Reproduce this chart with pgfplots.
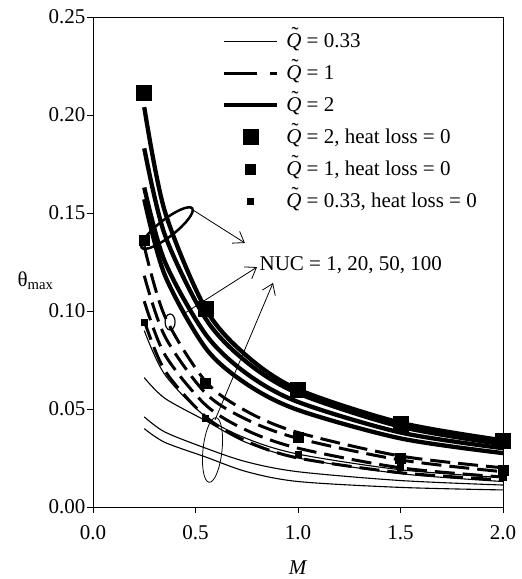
\documentclass[border=0pt]{standalone}
\usepackage{fontspec}
\setmainfont{Liberation Serif}
\usepackage{pgfplots}
\pgfplotsset{compat=1.18}
\usetikzlibrary{arrows.meta}
\newcommand{\Qt}{\ooalign{\textit{Q}\cr\hidewidth\kern0.12em\raisebox{0.25em}{\char"02DC}\hidewidth\cr}}
\pgfplotsset{
  lineleg/.style={legend image code/.code={\draw[##1] (0bp,0bp) -- (53bp,0bp);}},
  markleg/.style={legend image code/.code={\draw[##1] plot coordinates {(26.5bp,0bp)};}},
  dashleg/.style={legend image code/.code={\draw[black, line width=3bp, dash pattern=on 33bp off 13bp] (0bp,0bp) -- (53bp,0bp);}},
}
\begin{document}
\begin{tikzpicture}[font=\fontsize{21bp}{25bp}\selectfont]
\begin{axis}[
  width=410bp, height=490bp, scale only axis,
  xmin=0, xmax=2, ymin=0, ymax=0.25,
  xtick={0,0.5,1,1.5,2}, ytick={0,0.05,0.1,0.15,0.2,0.25},
  tick align=outside, tick pos=left, major tick length=6bp,
  axis line style={line width=0.8bp},
  tick style={line width=0.8bp, black},
  /pgf/number format/assume math mode=true,
  xticklabel style={yshift=-9bp, /pgf/number format/fixed, /pgf/number format/fixed zerofill, /pgf/number format/precision=1},
  yticklabel style={xshift=2bp, /pgf/number format/fixed, /pgf/number format/fixed zerofill, /pgf/number format/precision=2},
  xlabel={\textit{M}}, ylabel={θ\textsubscript{max}},
  every axis x label/.style={at={(rel axis cs:0.5,-0.123)}, anchor=center},
  every axis y label/.style={at={(rel axis cs:-0.14,0.461)}, anchor=center},
  clip=false,
  legend cell align=left,
  legend style={at={(rel axis cs:0.3146,0.975)}, anchor=north west, draw=none, fill=none,
    inner sep=0pt, outer sep=0pt, row sep=8bp, column sep=7bp,
    nodes={inner sep=0pt, text height=18bp, text depth=6bp}},
  lineleg,
]
% legend series
\addplot[black, line width=1.1bp, smooth] coordinates {(0.25,0.090)(0.35,0.0676)(0.55,0.046)(0.75,0.0349)(1.0,0.027)(1.5,0.019)(2.0,0.015)};
\addlegendentry{\Qt{} = 0.33}
\addplot[black, line width=3bp, dash pattern=on 20bp off 8bp, smooth, dashleg]
  coordinates {(0.25,0.133)(0.35,0.0974)(0.55,0.064)(0.75,0.0488)(1.0,0.038)(1.5,0.026)(2.0,0.020)};
\addlegendentry{\Qt{} = 1}
\addplot[black, line width=4.3bp, smooth] coordinates {(0.25,0.204)(0.35,0.151)(0.55,0.101)(0.75,0.0771)(1.0,0.060)(1.5,0.043)(2.0,0.034)};
\addlegendentry{\Qt{} = 2}
\addplot[only marks, mark=square*, mark size=7.5bp, mark options={fill=black, draw=black, line width=0bp}, markleg]
  coordinates {(0.25,0.211)(0.55,0.101)(1.0,0.0597)(1.5,0.0423)(2.0,0.0337)};
\addlegendentry{\Qt{} = 2, heat loss = 0}
\addplot[only marks, mark=square*, mark size=5bp, mark options={fill=black, draw=black, line width=0bp}, markleg]
  coordinates {(0.25,0.136)(0.55,0.063)(1.0,0.0357)(1.5,0.0245)(2.0,0.0184)};
\addlegendentry{\Qt{} = 1, heat loss = 0}
\addplot[only marks, mark=square*, mark size=3bp, mark options={fill=black, draw=black, line width=0bp}, markleg]
  coordinates {(0.25,0.094)(0.55,0.045)(1.0,0.027)(1.5,0.020)(2.0,0.0153)};
\addlegendentry{\Qt{} = 0.33, heat loss = 0}
% remaining Q=2 curves
\addplot[forget plot, black, line width=4.3bp, smooth] coordinates {(0.25,0.183)(0.35,0.139)(0.55,0.096)(0.75,0.0739)(1.0,0.058)(1.5,0.041)(2.0,0.032)};
\addplot[forget plot, black, line width=4.3bp, smooth] coordinates {(0.25,0.163)(0.35,0.1253)(0.55,0.088)(0.75,0.068)(1.0,0.0536)(1.5,0.038)(2.0,0.030)};
\addplot[forget plot, black, line width=4.3bp, smooth] coordinates {(0.25,0.157)(0.35,0.1184)(0.55,0.081)(0.75,0.0627)(1.0,0.0495)(1.5,0.035)(2.0,0.0275)};
% remaining Q=1 curves
\addplot[forget plot, black, line width=3bp, dash pattern=on 20bp off 8bp, smooth] coordinates {(0.25,0.118)(0.35,0.0872)(0.55,0.058)(0.75,0.0446)(1.0,0.035)(1.5,0.024)(2.0,0.018)};
\addplot[forget plot, black, line width=3bp, dash pattern=on 20bp off 8bp, smooth] coordinates {(0.25,0.105)(0.35,0.0778)(0.55,0.052)(0.75,0.0391)(1.0,0.030)(1.5,0.020)(2.0,0.0153)};
\addplot[forget plot, black, line width=3bp, dash pattern=on 20bp off 8bp, smooth] coordinates {(0.25,0.095)(0.35,0.0697)(0.55,0.046)(0.75,0.0335)(1.0,0.025)(1.5,0.0175)(2.0,0.0138)};
% remaining Q=0.33 curves
\addplot[forget plot, black, line width=1.1bp, smooth] coordinates {(0.25,0.066)(0.35,0.0555)(0.55,0.044)(0.75,0.0328)(1.0,0.025)(1.5,0.017)(2.0,0.013)};
\addplot[forget plot, black, line width=1.1bp, smooth] coordinates {(0.25,0.046)(0.35,0.0383)(0.55,0.030)(0.75,0.023)(1.0,0.018)(1.5,0.0135)(2.0,0.0112)};
\addplot[forget plot, black, line width=1.1bp, smooth] coordinates {(0.25,0.040)(0.35,0.033)(0.55,0.0255)(0.75,0.018)(1.0,0.013)(1.5,0.010)(2.0,0.0087)};
% annotations
\draw[line width=2.5bp, rotate around={38:(axis cs:0.361,0.1423)}] (axis cs:0.361,0.1423) ellipse [x radius=32bp, y radius=8.5bp];
\draw[line width=0.8bp, -{Straight Barb[length=10bp,width=14bp]}] (axis cs:0.488,0.1515) -- (axis cs:0.741,0.1347);
\draw[line width=1.2bp] (axis cs:0.376,0.0944) ellipse [x radius=5bp, y radius=8bp];
\draw[line width=0.8bp, -{Straight Barb[length=10bp,width=14bp]}] (axis cs:0.449,0.099) -- (axis cs:0.800,0.1224);
\draw[line width=0.8bp, rotate around={-6:(axis cs:0.583,0.0291)}] (axis cs:0.583,0.0291) ellipse [x radius=9.5bp, y radius=32.5bp];
\draw[line width=0.8bp, -{Straight Barb[length=10bp,width=14bp]}] (axis cs:0.595,0.0444) -- (axis cs:0.878,0.1143);
\node[anchor=west, inner sep=0pt] at (axis cs:0.812,0.1235) {NUC = 1, 20, 50, 100};
\end{axis}
\pgfresetboundingbox
\path ([shift={(-93bp,-72bp)}]current axis.south west) rectangle ([shift={(19bp,17bp)}]current axis.north east);
\end{tikzpicture}
\end{document}
